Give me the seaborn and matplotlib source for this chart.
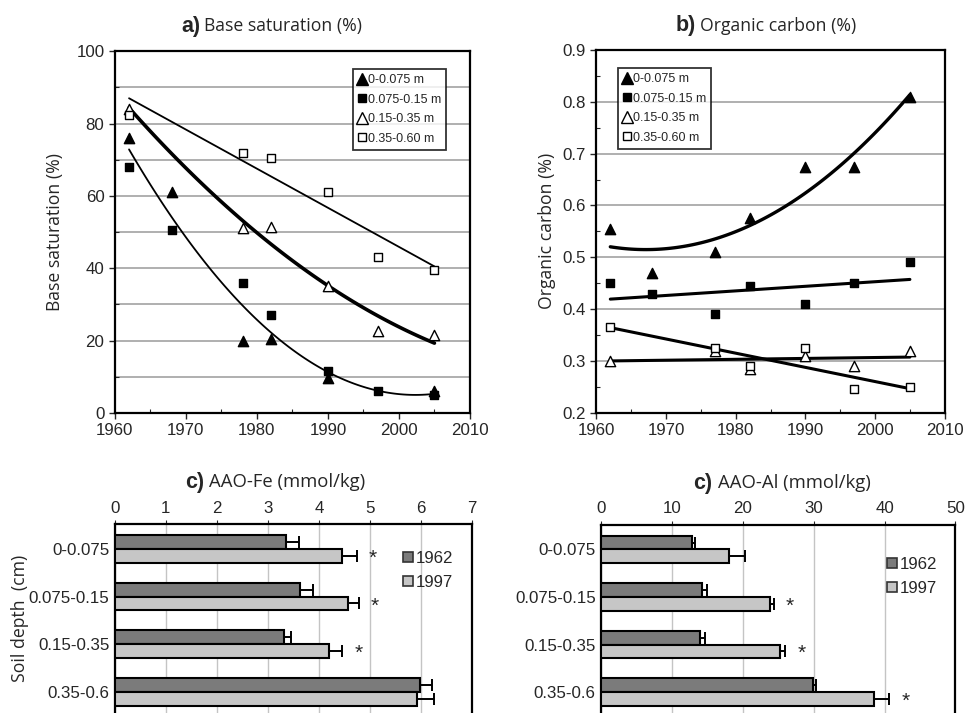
import numpy as np
import pandas as pd
import matplotlib
matplotlib.use("Agg")
import matplotlib.pyplot as plt
from matplotlib.lines import Line2D
from matplotlib.ticker import MultipleLocator
import seaborn as sns

# a) base saturation (%)
bs_yr_t1 = [1962, 1968, 1978, 1982, 1990, 2005]
bs_t1 = [76, 61, 20, 20.5, 9.5, 6]
bs_yr_s1 = [1962, 1968, 1978, 1982, 1990, 1997, 2005]
bs_s1 = [68, 50.5, 36, 27, 11.5, 6, 5]
bs_yr_t2 = [1962, 1978, 1982, 1990, 1997, 2005]
bs_t2 = [84, 51, 51.5, 35, 22.5, 21.5]
bs_yr_s2 = [1962, 1978, 1982, 1990, 1997, 2005]
bs_s2 = [82.5, 72, 70.5, 61, 43, 39.5]

# b) organic carbon (%)
oc_yr_t1 = [1962, 1968, 1977, 1982, 1990, 1997, 2005]
oc_t1 = [0.555, 0.47, 0.51, 0.575, 0.675, 0.675, 0.81]
oc_yr_s1 = [1962, 1968, 1977, 1982, 1990, 1997, 2005]
oc_s1 = [0.45, 0.43, 0.39, 0.445, 0.41, 0.45, 0.49]
oc_yr_t2 = [1962, 1977, 1982, 1990, 1997, 2005]
oc_t2 = [0.30, 0.32, 0.285, 0.31, 0.29, 0.32]
oc_yr_s2 = [1962, 1977, 1982, 1990, 1997, 2005]
oc_s2 = [0.365, 0.325, 0.29, 0.325, 0.245, 0.25]

layer_labels = ["0-0.075 m", "0.075-0.15 m", "0.15-0.35 m", "0.35-0.60 m"]

# c) AAO-Fe and AAO-Al (mmol/kg)
depths = ["0-0.075", "0.075-0.15", "0.15-0.35", "0.35-0.6"]
years = ["1962", "1997"]
fe_1962 = [3.35, 3.63, 3.31, 5.98]
fe_1962_err = [0.27, 0.25, 0.15, 0.23]
fe_1997 = [4.46, 4.57, 4.19, 5.92]
fe_1997_err = [0.29, 0.21, 0.27, 0.33]
fe_sig = [True, True, True, False]
al_1962 = [12.8, 14.3, 14.0, 29.9]
al_1962_err = [0.5, 0.6, 0.6, 0.4]
al_1997 = [18.1, 23.8, 25.2, 38.5]
al_1997_err = [2.2, 0.6, 0.8, 2.2]
al_sig = [False, True, True, True]

sns.set_style("white")
plt.rcParams['font.family'] = ['Liberation Sans', 'DejaVu Sans']
TXT = "Open Sans"
TICK = 12.2

fig = plt.figure(figsize=(9.65, 7.13), dpi=100)
ax_a = fig.add_axes([0.119, 0.421, 0.368, 0.507])
ax_b = fig.add_axes([0.618, 0.421, 0.361, 0.509])
ax_c = fig.add_axes([0.119, 0.0, 0.370, 0.265])
ax_d = fig.add_axes([0.623, 0.0, 0.367, 0.264])


def panel_title(ax, x, y, letter, text, size):
    ax.text(x, y, letter, transform=ax.transAxes, ha="right", va="center",
            fontsize=15.5, fontweight="bold")
    ax.text(x + 0.012, y, text, transform=ax.transAxes, ha="left", va="center",
            fontsize=size, family=TXT)


def scatter_series(ax, x, y, marker, filled):
    sns.scatterplot(x=x, y=y, marker=marker, s=55 if marker == "^" else 40,
                    color="black" if filled else "white", edgecolor="black",
                    linewidth=1.0, ax=ax, zorder=4)


def style_line_axes(ax):
    ax.set_xlim(1960, 2010)
    ax.xaxis.set_major_locator(MultipleLocator(10))
    ax.xaxis.set_minor_locator(MultipleLocator(5))
    ax.grid(axis="y", color="#9a9a9a", lw=1.1)
    ax.grid(axis="x", visible=False)
    for s in ax.spines.values():
        s.set_color("black")
        s.set_linewidth(1.6)
    ax.tick_params(axis="both", which="major", labelsize=TICK, length=4,
                   width=1, direction="out", left=True, bottom=True)
    ax.tick_params(axis="both", which="minor", length=3, width=0.8,
                   direction="in", left=True, bottom=True)
    ax.set_xlabel("")


# ---- a)
scatter_series(ax_a, bs_yr_t1, bs_t1, "^", True)
scatter_series(ax_a, bs_yr_s1, bs_s1, "s", True)
scatter_series(ax_a, bs_yr_t2, bs_t2, "^", False)
scatter_series(ax_a, bs_yr_s2, bs_s2, "s", False)
sns.regplot(x=bs_yr_t1 + bs_yr_s1, y=bs_t1 + bs_s1, order=2, ci=None, scatter=False,
            ax=ax_a, line_kws=dict(color="black", lw=1.3))
sns.regplot(x=bs_yr_t2, y=bs_t2, order=2, ci=None, scatter=False, ax=ax_a,
            line_kws=dict(color="black", lw=2.6))
sns.regplot(x=bs_yr_s2, y=bs_s2, order=1, ci=None, scatter=False, ax=ax_a,
            line_kws=dict(color="black", lw=1.3))
ax_a.set_ylim(0, 100)
ax_a.yaxis.set_major_locator(MultipleLocator(20))
ax_a.yaxis.set_minor_locator(MultipleLocator(10))
style_line_axes(ax_a)
ax_a.grid(axis="y", which="minor", color="#9a9a9a", lw=1.1)
ax_a.set_ylabel("Base saturation (%)", fontsize=12.7, family=TXT, labelpad=9)
panel_title(ax_a, 0.24, 1.069, "a)", "Base saturation (%)", 12.7)

# ---- b)
scatter_series(ax_b, oc_yr_t1, oc_t1, "^", True)
scatter_series(ax_b, oc_yr_s1, oc_s1, "s", True)
scatter_series(ax_b, oc_yr_t2, oc_t2, "^", False)
scatter_series(ax_b, oc_yr_s2, oc_s2, "s", False)
sns.regplot(x=oc_yr_t1, y=oc_t1, order=2, ci=None, scatter=False, ax=ax_b,
            line_kws=dict(color="black", lw=2.4))
for xx, yy in [(oc_yr_s1, oc_s1), (oc_yr_t2, oc_t2), (oc_yr_s2, oc_s2)]:
    sns.regplot(x=xx, y=yy, order=1, ci=None, scatter=False, ax=ax_b,
                line_kws=dict(color="black", lw=2.2))
ax_b.set_ylim(0.2, 0.9)
ax_b.yaxis.set_major_locator(MultipleLocator(0.1))
ax_b.yaxis.set_minor_locator(MultipleLocator(0.05))
style_line_axes(ax_b)
ax_b.set_ylabel("Organic carbon (%)", fontsize=12.7, family=TXT, labelpad=5)
panel_title(ax_b, 0.285, 1.066, "b)", "Organic carbon (%)", 12.7)

# legends for a) and b)
leg_handles = [
    Line2D([], [], ls="", marker="^", ms=8, mfc="black", mec="black"),
    Line2D([], [], ls="", marker="s", ms=6, mfc="black", mec="black"),
    Line2D([], [], ls="", marker="^", ms=8, mfc="white", mec="black"),
    Line2D([], [], ls="", marker="s", ms=6, mfc="white", mec="black"),
]
for ax, loc in [(ax_a, (0.672, 0.728)), (ax_b, (0.063, 0.728))]:
    leg = ax.legend(leg_handles, layer_labels, loc="lower left", bbox_to_anchor=loc,
                    fontsize=9, frameon=True, fancybox=False, handlelength=0.6,
                    handletextpad=0.15, borderpad=0.4, labelspacing=0.6,
                    borderaxespad=0)
    leg.get_frame().set_edgecolor("black")
    leg.get_frame().set_linewidth(1.3)


# ---- c) bars
def bar_panel(ax, v62, e62, v97, e97, sig, xmax, step, letter, title, tx, legy):
    df = pd.DataFrame({
        "depth": depths * 2,
        "value": v62 + v97,
        "year": [years[0]] * 4 + [years[1]] * 4,
    })
    sns.barplot(data=df, y="depth", x="value", hue="year", orient="h",
                palette=["#7b7b7b", "#c6c6c6"], edgecolor="black", linewidth=1.5,
                width=0.58, errorbar=None, legend=False, ax=ax, zorder=3)
    for cont, err in zip(ax.containers, [e62, e97]):
        ys = [b.get_y() + b.get_height() / 2 for b in cont]
        xs = [b.get_width() for b in cont]
        ax.errorbar(xs, ys, xerr=[[0] * len(err), err], fmt="none", ecolor="black",
                    elinewidth=1.4, capsize=4, capthick=1.4, zorder=4)
        if err is e97:
            for x, y, e, s in zip(xs, ys, err, sig):
                if s:
                    ax.text(x + e + 0.045 * xmax, y + 0.05, "*", ha="center",
                            va="center", fontsize=15)
    ax.set_xlim(0, xmax)
    ax.set_ylim(3.44, -0.52)
    ax.xaxis.set_major_locator(MultipleLocator(step))
    ax.xaxis.tick_top()
    ax.grid(axis="x", color="#c4c4c4", lw=1, zorder=0)
    ax.grid(axis="y", visible=False)
    ax.set_axisbelow(True)
    for s in ["top", "left", "right"]:
        ax.spines[s].set_color("black")
        ax.spines[s].set_linewidth(1.6)
    ax.spines["bottom"].set_visible(False)
    ax.tick_params(axis="x", labelsize=TICK, length=3, top=True, pad=3)
    ax.tick_params(axis="y", labelsize=TICK, length=0, pad=4)
    ax.set_xlabel("")
    ax.set_ylabel("")
    hl = [Line2D([], [], ls="", marker="s", ms=7, mfc=c, mec="#333333", mew=1.2)
          for c in ["#7b7b7b", "#c6c6c6"]]
    ax.legend(hl, years, loc="upper left", bbox_to_anchor=(0.81, legy),
              frameon=False, fontsize=TICK, handlelength=0.5, handletextpad=0.2,
              labelspacing=0.55, borderaxespad=0, borderpad=0)
    ax.text(tx, 1.22, letter, transform=ax.transAxes, ha="right", va="center",
            fontsize=15.5, fontweight="bold")
    ax.text(tx + 0.015, 1.22, title, transform=ax.transAxes, ha="left",
            va="center", fontsize=13.3, family=TXT)


bar_panel(ax_c, fe_1962, fe_1962_err, fe_1997, fe_1997_err, fe_sig, 7, 1,
          "c)", "AAO-Fe (mmol/kg)", 0.25, 0.86)
ax_c.set_ylabel("Soil depth  (cm)", fontsize=12.7, family=TXT, labelpad=0)
bar_panel(ax_d, al_1962, al_1962_err, al_1997, al_1997_err, al_sig, 50, 10,
          "c)", "AAO-Al (mmol/kg)", 0.314, 0.83)

fig.savefig("out.png", dpi=100)
